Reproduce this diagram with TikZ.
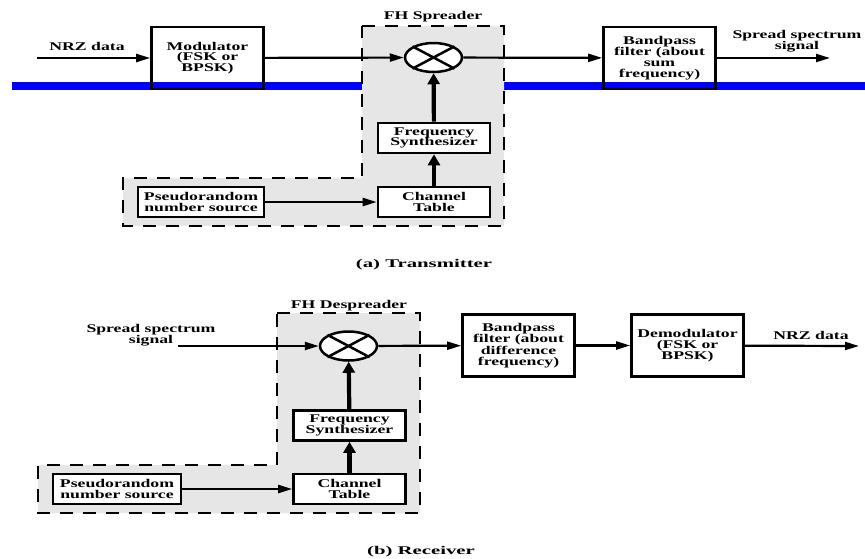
\documentclass[tikz,border=0pt]{standalone}
\usepackage{fontspec}
\setmainfont{Liberation Serif}[FakeStretch=1.5]
\newfontfamily\capfont{Liberation Serif}[FakeStretch=1.76]
\usetikzlibrary{shapes.geometric,arrows.meta,positioning}
\definecolor{regiongray}{RGB}{230,230,230}
\tikzset{x=1pt,y=-1pt,
    every node/.style={font=\bfseries\fontsize{11.8}{10.8}\selectfont,align=center,inner sep=0pt},
    caption/.style={font=\capfont\bfseries\fontsize{11.8}{10.8}\selectfont},
    block/.style={draw,fill=white,line width=2.6pt,minimum width=112pt,minimum height=30pt},
    tallblock/.style={block,minimum height=62pt},
    mixer/.style={ellipse,draw,fill=white,line width=2.5pt,minimum width=57pt,minimum height=29pt},
    region/.style={draw,fill=regiongray,line width=2.6pt,dash pattern=on 13pt off 10pt},
    sig/.style={line width=2.2pt,-{Triangle[length=14pt,width=8pt]}},
    ctl/.style={line width=4.2pt,-{Triangle[length=11pt,width=12pt]}},
    }
\begin{document}
\begin{tikzpicture}
\useasboundingbox (0,0) rectangle (865,558);
% (a) transmitter
\draw[blue,line width=7.7pt] (12,86) -- (865,86);
\path[region] (362,26) -- (504,26) -- (504,226) -- (123,226) -- (123,178) -- (362,178) -- cycle;
\node (spread) at (433,16.5) {FH Spreader};
\node[tallblock,fill=none] (mod) at (207.5,58) {Modulator\\(FSK or\\BPSK)};
\node[mixer] (mixA) at (433.5,57.5) {};
\draw[line width=2.5pt] (mixA.north west) -- (mixA.south east) (mixA.north east) -- (mixA.south west);
\node[tallblock,fill=none] (bpfA) at (659.5,58) {Bandpass\\filter (about\\sum\\frequency)};
\node[block] (synA) at (434,138) {Frequency\\Synthesizer};
\node[block] (chanA) at (434,202) {Channel\\Table};
\node[block,minimum width=126pt] (pnA) at (201,202) {Pseudorandom\\number source};
\coordinate (inA) at (37,58);
\coordinate (outA) at (830,58);
\node (nrzin) at (87,46.5) {NRZ data};
\node (ssout) at (797,41.5) {Spread spectrum\\signal};
\draw[sig] (inA) -- (mod);
\draw[sig] (mod) -- (mixA);
\draw[sig] (mixA) -- (bpfA);
\draw[sig] (bpfA) -- (outA);
\draw[sig] (pnA) -- (chanA);
\draw[ctl] (chanA) -- (synA);
\draw[ctl] (synA) -- (mixA);
\node[caption] (capA) at (424,265) {(a) Transmitter};
% (b) receiver
\path[region] (277,313) -- (420,313) -- (420,513) -- (38,513) -- (38,465) -- (277,465) -- cycle;
\node (despread) at (349,305.5) {FH Despreader};
\node[mixer] (mixB) at (348.5,346) {};
\draw[line width=2.5pt] (mixB.north west) -- (mixB.south east) (mixB.north east) -- (mixB.south west);
\node[tallblock] (bpfB) at (518.5,345.5) {Bandpass\\filter (about\\difference\\frequency)};
\node[tallblock] (demod) at (687.5,345.5) {Demodulator\\(FSK or\\BPSK)};
\node[block] (synB) at (349.5,425.5) {Frequency\\Synthesizer};
\node[block] (chanB) at (349.5,489) {Channel\\Table};
\node[block,minimum width=128pt] (pnB) at (117,489) {Pseudorandom\\number source};
\coordinate (inB) at (178,346);
\coordinate (outB) at (859,346);
\node (ssin) at (151,335.5) {Spread spectrum\\signal};
\node (nrzout) at (811,335) {NRZ data};
\draw[sig] (inB) -- (mixB);
\draw[sig] (mixB) -- (bpfB);
\draw[sig] (bpfB) -- (demod);
\draw[sig] (demod) -- (outB);
\draw[sig] (pnB) -- (chanB);
\draw[ctl] (chanB) -- (synB);
\draw[ctl] (synB) -- (mixB);
\node[caption] (capB) at (421,552) {(b) Receiver};
\end{tikzpicture}
\end{document}
